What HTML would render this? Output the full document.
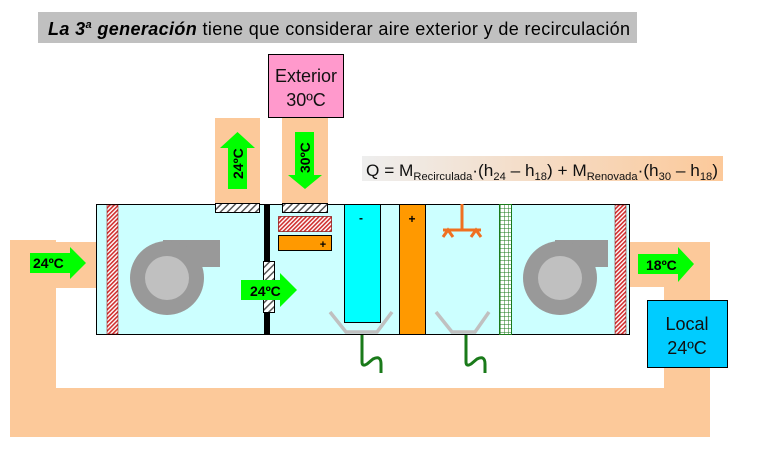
<!DOCTYPE html>
<html><head><meta charset="utf-8"><style>
body{margin:0;background:#fff;}
svg{display:block;font-family:"Liberation Sans",Arial,sans-serif;}
</style></head><body>
<svg width="763" height="456" viewBox="0 0 763 456" xmlns="http://www.w3.org/2000/svg">
<defs>
<pattern id="red" width="3" height="3" patternUnits="userSpaceOnUse" patternTransform="rotate(45)">
<rect width="3" height="3" fill="#fff"/><rect width="1.6" height="3" fill="#d03030"/></pattern>
<pattern id="gray" width="5" height="5" patternUnits="userSpaceOnUse" patternTransform="rotate(45)">
<rect width="5" height="5" fill="#fff"/><rect width="1.5" height="5" fill="#555"/></pattern>
<pattern id="mesh" width="4" height="4" patternUnits="userSpaceOnUse">
<rect width="4" height="4" fill="#fff"/><path d="M0 0H4M0 0V4" stroke="#1a7a1a" stroke-width="1"/></pattern>
<linearGradient id="eq" x1="0" x2="1"><stop offset="0" stop-color="#eeeeee"/><stop offset="1" stop-color="#fcc99a"/></linearGradient>
</defs>
<!-- title -->
<rect x="38" y="12" width="599" height="31" fill="#c0c0c0"/>
<text x="48" y="35" font-size="18" fill="#000" textLength="582" lengthAdjust="spacing"><tspan font-weight="bold" font-style="italic">La 3<tspan font-size="11" dy="-7">a</tspan><tspan dy="7"> generación</tspan></tspan> tiene que considerar aire exterior y de recirculación</text>
<!-- ducts -->
<path d="M10 240H56V242H97V288H56V388H664V287H630V242H710V437H10Z" fill="#fcc99a"/>
<rect x="215" y="118" width="45" height="86" fill="#fcc99a"/>
<rect x="282" y="118" width="46" height="86" fill="#fcc99a"/>
<!-- exterior -->
<rect x="268.5" y="54.5" width="75" height="63" fill="#ff99cc" stroke="#000"/>
<text x="306" y="82" font-size="18" text-anchor="middle" fill="#111">Exterior</text>
<text x="306" y="106" font-size="18" text-anchor="middle" fill="#111">30ºC</text>
<!-- equation -->
<rect x="362" y="156" width="361" height="25" fill="url(#eq)"/>
<text x="366" y="176" font-size="17" fill="#111" textLength="352" lengthAdjust="spacingAndGlyphs">Q = M<tspan font-size="11" dy="4">Recirculada</tspan><tspan dy="-4">·(h</tspan><tspan font-size="11" dy="4">24</tspan><tspan dy="-4"> – h</tspan><tspan font-size="11" dy="4">18</tspan><tspan dy="-4">) + M</tspan><tspan font-size="11" dy="4">Renovada</tspan><tspan dy="-4">·(h</tspan><tspan font-size="11" dy="4">30</tspan><tspan dy="-4"> – h</tspan><tspan font-size="11" dy="4">18</tspan><tspan dy="-4">)</tspan></text>
<!-- AHU -->
<rect x="96.5" y="204.5" width="533" height="130" fill="#ccffff" stroke="#000"/>
<rect x="107" y="205" width="11" height="129" fill="url(#red)" stroke="#800" stroke-width="0.5"/>
<rect x="615" y="205" width="11" height="129" fill="url(#red)" stroke="#800" stroke-width="0.5"/>
<!-- fans -->
<rect x="163" y="240" width="57" height="27" fill="#999"/>
<circle cx="167" cy="278" r="37" fill="#999"/><circle cx="167" cy="278" r="22" fill="#c0c0c0"/>
<rect x="555" y="240" width="53" height="27" fill="#999"/>
<circle cx="560" cy="278" r="37" fill="#999"/><circle cx="560" cy="278" r="22" fill="#c0c0c0"/>
<!-- divider -->
<rect x="264" y="204" width="6" height="131" fill="#000"/>
<rect x="263.5" y="261.5" width="11" height="51" fill="url(#gray)" stroke="#000"/>
<rect x="215.5" y="203.5" width="44" height="9" fill="url(#gray)" stroke="#000"/>
<rect x="282.5" y="203.5" width="45" height="9" fill="url(#gray)" stroke="#000"/>
<rect x="278.5" y="216.5" width="53" height="15" fill="url(#red)" stroke="#800" stroke-width="0.7"/>
<rect x="278.5" y="235.5" width="53" height="15" fill="#ff9900" stroke="#000"/>
<text x="323" y="248" font-size="11" font-weight="bold" text-anchor="middle">+</text>
<!-- coils -->
<rect x="344.5" y="204.5" width="36" height="118" fill="#00ffff" stroke="#000"/>
<text x="361" y="222" font-size="12" font-weight="bold" text-anchor="middle">-</text>
<rect x="399.5" y="204.5" width="26" height="130" fill="#ff9900" stroke="#000"/>
<text x="412" y="223" font-size="12" font-weight="bold" text-anchor="middle">+</text>
<!-- spray -->
<g stroke="#f07020" stroke-width="3" fill="none">
<path d="M462 204V230M443 230H481M443 237L448 230L453 237M471 237L476 230L481 237"/></g>
<!-- pans -->
<g stroke="#c0c0c0" stroke-width="3.5" fill="none">
<path d="M330 312L346 332H377L392 312"/><path d="M436 312L452 332H475L489 312"/></g>
<!-- drains -->
<g stroke="#1a7a1a" stroke-width="3" fill="none">
<path d="M362 335V362Q362 367 367 364L373 359Q381 355 381 364V373"/>
<path d="M466 335V362Q466 367 471 364L477 359Q485 355 485 364V373"/></g>
<!-- mesh -->
<rect x="499.5" y="204.5" width="12" height="130" fill="url(#mesh)" stroke="#1a7a1a"/>
<!-- arrows -->
<g fill="#00ff00">
<path d="M30 253H70V247L86 263L70 279V273H30Z"/>
<path d="M241 280H280V273L297 290L280 307V300H241Z"/>
<path d="M638 254H678V247L694 264L678 282V274H638Z"/>
<path d="M228 189V148H220L237.5 132L255 148H247V189Z"/>
<path d="M295 132H314V175H322L305 189L288 175H295Z"/>
</g>
<g font-size="14" font-weight="bold" fill="#000">
<text x="33" y="268">24ºC</text>
<text x="250" y="296">24ºC</text>
<text x="646" y="270">18ºC</text>
<text transform="translate(243 179) rotate(-90)">24ºC</text>
<text transform="translate(310 173) rotate(-90)">30ºC</text>
</g>
<!-- local -->
<rect x="647.5" y="300.5" width="80" height="67" fill="#00ccff" stroke="#000"/>
<text x="687" y="330" font-size="18" text-anchor="middle" fill="#111">Local</text>
<text x="687" y="354" font-size="18" text-anchor="middle" fill="#111">24ºC</text>
</svg>
</body></html>
